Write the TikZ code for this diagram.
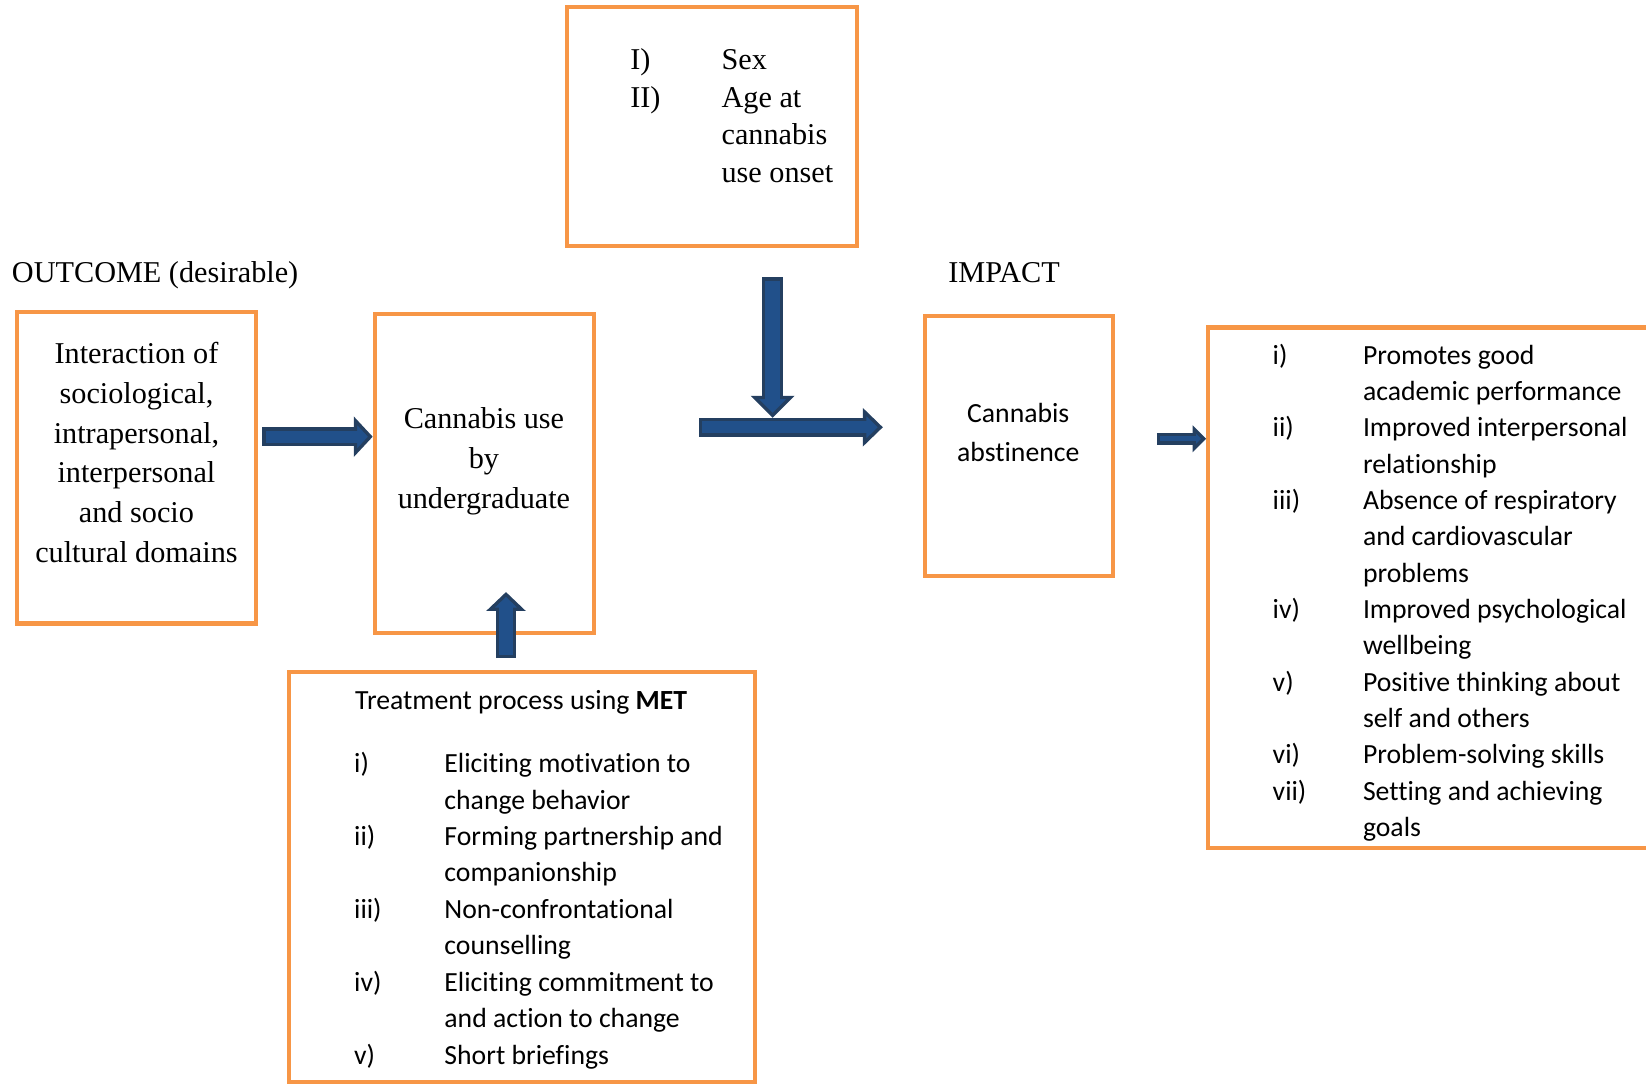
\documentclass[tikz,border=0pt]{standalone}
\usepackage{fontspec}
\setmainfont{Liberation Serif}
\newfontfamily\calibri[Ligatures=NoCommon]{Carlito}
\usetikzlibrary{arrows.meta,fit}

\definecolor{boxorange}{HTML}{F79646}
\definecolor{arrowfill}{HTML}{21508A}
\definecolor{arrowline}{HTML}{243F60}

\tikzset{
  box/.style={draw=boxorange, line width=2pt, inner sep=0pt},
  roman/.style={font=\fontsize{14.4}{19}\selectfont, inner sep=0pt, anchor=base},
  sans/.style={font=\calibri\fontsize{13.2}{17.3}\selectfont, inner sep=0pt, anchor=base west},
  fatout/.style n args={3}{draw=arrowline, line width=#1,
    -{Triangle[length=#3, width=#2, fill=arrowfill, line width=1.6pt]}},
  fatin/.style n args={2}{draw=arrowfill, line width=#1, shorten <=1.6pt, shorten >=#2}
}

\begin{document}
\begin{tikzpicture}[x=0.5pt, y=-0.5pt]
\clip (0,0) rectangle (1568,1034);

% boxes
\node[box, fit={(16,297) (244,594)}] (outcome) {};
\node[box, fit={(357,299) (566,603)}] (use) {};
\node[box, fit={(540,7) (816,234)}] (factors) {};
\node[box, fit={(881,301) (1060,549)}] (abstain) {};
\node[box, fit={(1151,312) (1600,808)}] (impact) {};
\node[box, fit={(275,640) (719,1031)}] (met) {};

% headings
\node[roman, anchor=base west] (outlabel) at (11,269) {OUTCOME (desirable)};
\node[roman, anchor=base west] (implabel) at (903,269) {IMPACT};

% texts in boxes
\foreach \t [count=\k from 0] in {Interaction of, {sociological,}, {intrapersonal,}, interpersonal, and socio, cultural domains}
  \node[roman] (dom\k) at (130,{346+38*\k}) {\t};
\foreach \t [count=\k from 0] in {Cannabis use, by, undergraduate}
  \node[roman] (use\k) at (461,{408+38*\k}) {\t};
\foreach \lab/\txt [count=\k from 0] in {I)/Sex, II)/Age at, /cannabis, /use onset}
{
  \node[roman, anchor=base west] (fl\k) at (600,{66+36*\k}) {\lab};
  \node[roman, anchor=base west] (ft\k) at (687,{66+36*\k}) {\txt};
}
\node[sans, anchor=base] (abs0) at (970,402) {Cannabis};
\node[sans, anchor=base] (abs1) at (970,440) {abstinence};

\foreach \lab/\txt [count=\k from 0] in {i)/Promotes good, /academic performance, ii)/Improved interpersonal, /relationship, iii)/Absence of respiratory, /and cardiovascular, /problems, iv)/Improved psychological, /wellbeing, v)/Positive thinking about, /self and others, vi)/Problem-solving skills, vii)/Setting and achieving, /goals}
{
  \node[sans] (il\k) at (1212,{347+34.6*\k}) {\lab};
  \node[sans] (it\k) at (1298,{347+34.6*\k}) {\txt};
}

\node[sans] (methead) at (338,676) {Treatment process using \textbf{MET}};
\foreach \lab/\txt [count=\k from 0] in {i)/Eliciting motivation to, /change behavior, ii)/Forming partnership and, /companionship, iii)/Non-confrontational, /counselling, iv)/Eliciting commitment to, /and action to change, v)/Short briefings}
{
  \node[sans] (ml\k) at (337,{736+34.7*\k}) {\lab};
  \node[sans] (mt\k) at (423,{736+34.7*\k}) {\txt};
}

% block arrows
\coordinate (outtail) at (250,416);
\coordinate (outtip) at (use.west |- outtail);
\coordinate (mettail) at (482,627);
\coordinate (mettip) at (482,564);
\coordinate (factail) at (736,264);
\coordinate (factip) at (736,398);
\coordinate (jointail) at (666,407);
\coordinate (jointip) at (841,407);
\coordinate (abstail) at (1102,418);
\coordinate (abstip) at (impact.west |- abstail);

\foreach \a/\b/\sw/\hw/\hl in {outtail/outtip/9/19/9, mettail/mettip/9.5/18.5/9, jointail/jointip/9/18/9.5, factail/factip/10/20.5/10.5, abstail/abstip/5.5/12.5/6.5}
{
  \draw[fatout={\sw pt}{\hw pt}{\hl pt}] (\a) -- (\b);
  \draw[fatin={\sw pt-3.2pt}{0.6*\hl pt}] (\a) -- (\b);
}
\end{tikzpicture}
\end{document}
